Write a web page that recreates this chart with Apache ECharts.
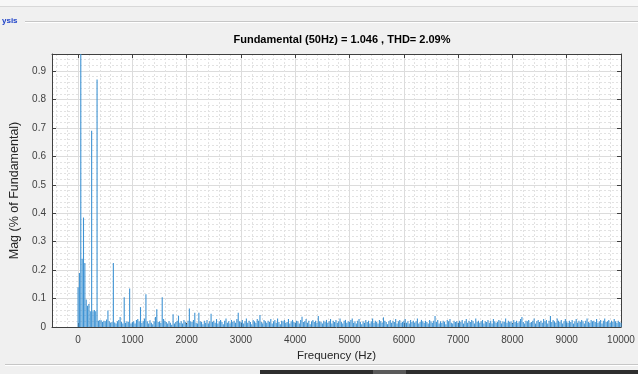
<!DOCTYPE html>
<html>
<head>
<meta charset="utf-8">
<script src="https://cdn.jsdelivr.net/npm/echarts@6/dist/echarts.min.js"></script>
<style>
html,body{margin:0;padding:0;background:#f0f0f0;}
#chart{width:638px;height:374px;}
</style>
</head>
<body>
<div id="chart"></div>
<script>
// ---- data ----
const titleText = "Fundamental (50Hz) = 1.046 , THD= 2.09%";
const xAxisName = "Frequency (Hz)";
const yAxisName = "Mag (% of Fundamental)";
const binWidthHz = 25; // FFT frequency resolution
// magnitude per 25 Hz bin, 0 Hz .. 10000 Hz (20 bins = 500 Hz per row)
const magnitudes = [
  0.14, 0.19, 100, 0.24, 0.385, 0.225, 0.097, 0.075, 0.081, 0.055, 0.69, 0.055, 0.06, 0.055, 0.87, 0.022, 0.025, 0.024, 0.018, 0.022,
  0.02, 0.026, 0.058, 0.02, 0.015, 0.018, 0.225, 0.016, 0.012, 0.02, 0.025, 0.035, 0.018, 0.012, 0.105, 0.015, 0.02, 0.018, 0.135, 0.012,
  0.018, 0.02, 0.012, 0.025, 0.028, 0.02, 0.07, 0.015, 0.022, 0.03, 0.115, 0.02, 0.012, 0.024, 0.015, 0.01, 0.02, 0.035, 0.062, 0.018,
  0.02, 0.015, 0.105, 0.028, 0.022, 0.018, 0.012, 0.02, 0.015, 0.008, 0.045, 0.012, 0.018, 0.022, 0.04, 0.015, 0.02, 0.012, 0.025, 0.018,
  0.01, 0.022, 0.065, 0.02, 0.018, 0.025, 0.05, 0.015, 0.012, 0.05, 0.02, 0.018, 0.01, 0.022, 0.015, 0.025, 0.012, 0.02, 0.047, 0.018,
  0.022, 0.015, 0.028, 0.012, 0.02, 0.025, 0.018, 0.01, 0.022, 0.03, 0.015, 0.02, 0.012, 0.025, 0.018, 0.022, 0.015, 0.028, 0.05, 0.02,
  0.018, 0.025, 0.012, 0.02, 0.03, 0.015, 0.022, 0.018, 0.01, 0.025, 0.02, 0.015, 0.028, 0.022, 0.042, 0.018, 0.012, 0.025, 0.02, 0.015,
  0.022, 0.018, 0.028, 0.012, 0.02, 0.025, 0.015, 0.03, 0.018, 0.01, 0.022, 0.02, 0.025, 0.015, 0.018, 0.028, 0.012, 0.02, 0.025, 0.018,
  0.015, 0.022, 0.02, 0.012, 0.025, 0.036, 0.018, 0.02, 0.028, 0.015, 0.022, 0.01, 0.02, 0.025, 0.018, 0.022, 0.015, 0.039, 0.02, 0.018,
  0.012, 0.022, 0.018, 0.025, 0.015, 0.02, 0.028, 0.012, 0.022, 0.018, 0.025, 0.015, 0.02, 0.03, 0.018, 0.012, 0.022, 0.025, 0.015, 0.02,
  0.018, 0.025, 0.03, 0.015, 0.02, 0.012, 0.022, 0.028, 0.018, 0.01, 0.02, 0.015, 0.025, 0.018, 0.022, 0.012, 0.02, 0.03, 0.015, 0.022,
  0.018, 0.012, 0.025, 0.02, 0.015, 0.034, 0.022, 0.018, 0.01, 0.02, 0.025, 0.015, 0.022, 0.018, 0.028, 0.012, 0.02, 0.025, 0.015, 0.018,
  0.022, 0.028, 0.015, 0.02, 0.012, 0.025, 0.018, 0.022, 0.015, 0.02, 0.03, 0.012, 0.018, 0.025, 0.02, 0.015, 0.022, 0.018, 0.012, 0.025,
  0.02, 0.015, 0.022, 0.039, 0.018, 0.025, 0.012, 0.02, 0.015, 0.022, 0.018, 0.01, 0.025, 0.02, 0.028, 0.015, 0.012, 0.022, 0.018, 0.02,
  0.015, 0.022, 0.018, 0.025, 0.012, 0.02, 0.028, 0.015, 0.022, 0.018, 0.025, 0.02, 0.012, 0.03, 0.018, 0.022, 0.015, 0.02, 0.025, 0.012,
  0.02, 0.018, 0.025, 0.015, 0.022, 0.012, 0.028, 0.02, 0.015, 0.018, 0.025, 0.022, 0.012, 0.02, 0.018, 0.03, 0.015, 0.022, 0.018, 0.02,
  0.012, 0.025, 0.018, 0.022, 0.015, 0.02, 0.028, 0.035, 0.018, 0.012, 0.022, 0.02, 0.025, 0.015, 0.018, 0.022, 0.03, 0.012, 0.02, 0.025,
  0.018, 0.022, 0.015, 0.028, 0.02, 0.025, 0.012, 0.022, 0.039, 0.018, 0.025, 0.02, 0.015, 0.03, 0.022, 0.018, 0.025, 0.012, 0.02, 0.028,
  0.02, 0.015, 0.022, 0.018, 0.025, 0.012, 0.02, 0.028, 0.015, 0.022, 0.018, 0.025, 0.02, 0.012, 0.022, 0.03, 0.018, 0.015, 0.025, 0.02,
  0.022, 0.018, 0.028, 0.015, 0.02, 0.025, 0.012, 0.022, 0.03, 0.018, 0.02, 0.025, 0.015, 0.022, 0.018, 0.028, 0.02, 0.015, 0.022, 0.018,
  0.015
];
const xMin = -480, xMax = 10000;
const yMin = 0, yMax = 0.96;

const barData = magnitudes.map((v, i) => [i * binWidthHz, v]);

const FONT = "'Liberation Sans', Arial, sans-serif";
const axisColor = '#404040';

const chart = echarts.init(document.getElementById('chart'), null, {renderer: 'canvas'});
chart.setOption({
  animation: false,
  backgroundColor: '#f0f0f0',
  textStyle: {fontFamily: FONT},
  title: {
    text: titleText,
    left: 337, top: 29,
    textAlign: 'center',
    textStyle: {fontFamily: FONT, fontSize: 11, fontWeight: 'bold', color: '#000'}
  },
  grid: {left: 52, top: 54, right: 17, bottom: 47, show: true, backgroundColor: '#fff', borderWidth: 0},
  xAxis: [{
    type: 'value', min: xMin, max: xMax, splitNumber: 10,
    name: xAxisName, nameLocation: 'middle', nameGap: 21,
    nameTextStyle: {fontFamily: FONT, fontSize: 11.5, color: '#262626'},
    axisLine: {show: true, onZero: false, lineStyle: {color: axisColor, width: 1}},
    axisTick: {show: true, inside: true, length: 4, lineStyle: {color: axisColor}},
    axisLabel: {fontFamily: FONT, fontSize: 10, color: '#404040', margin: 8, showMinLabel: false,
      formatter: v => String(Math.round(v))},
    splitLine: {show: true, lineStyle: {color: '#dcdcdc', width: 1}},
    minorTick: {show: false, splitNumber: 5},
    minorSplitLine: {show: true, lineStyle: {color: '#e2e2e2', type: [2, 2], width: 1}}
  }, {
    type: 'value', position: 'top', min: xMin, max: xMax, splitNumber: 10,
    axisLine: {show: true, onZero: false, lineStyle: {color: axisColor, width: 1}},
    axisTick: {show: true, inside: true, length: 4, lineStyle: {color: axisColor}},
    axisLabel: {show: false},
    splitLine: {show: false}
  }],
  yAxis: [{
    type: 'value', min: yMin, max: yMax, interval: 0.1,
    name: yAxisName, nameLocation: 'middle', nameGap: 23,
    nameTextStyle: {fontFamily: FONT, fontSize: 12.5, color: '#262626'},
    axisLine: {show: true, onZero: false, lineStyle: {color: axisColor, width: 1}},
    axisTick: {show: true, inside: true, length: 4, lineStyle: {color: axisColor}},
    axisLabel: {fontFamily: FONT, fontSize: 10, color: '#404040', margin: 6, showMaxLabel: false,
      formatter: v => String(Math.round(v * 10) / 10)},
    splitLine: {show: true, lineStyle: {color: '#dcdcdc', width: 1}},
    minorTick: {show: false, splitNumber: 5},
    minorSplitLine: {show: true, lineStyle: {color: '#e2e2e2', type: [2, 2], width: 1}}
  }, {
    type: 'value', position: 'right', min: yMin, max: yMax, interval: 0.1,
    axisLine: {show: true, onZero: false, lineStyle: {color: axisColor, width: 1}},
    axisTick: {show: true, inside: true, length: 4, lineStyle: {color: axisColor}},
    axisLabel: {show: false},
    splitLine: {show: false}
  }],
  series: [{
    type: 'bar',
    xAxisIndex: 0, yAxisIndex: 0,
    data: barData,
    barWidth: 1.1,
    clip: true,
    itemStyle: {color: '#3f93d3'},
    emphasis: {disabled: true}
  }],
  graphic: [
    {type: 'rect', shape: {x: 0, y: 0, width: 638, height: 6}, style: {fill: '#f7f7f7'}, silent: true},
    {type: 'rect', shape: {x: 0, y: 6, width: 638, height: 1}, style: {fill: '#d8d8d8'}, silent: true},
    {type: 'rect', shape: {x: 25, y: 21, width: 613, height: 1}, style: {fill: '#c6c6c6'}, silent: true},
    {type: 'rect', shape: {x: 25, y: 22, width: 613, height: 1}, style: {fill: '#ffffff'}, silent: true},
    {type: 'text', x: 2, y: 17, style: {text: 'ysis', fill: '#1a3fc8', font: 'bold 8px ' + FONT}, silent: true},
    {type: 'rect', shape: {x: 5, y: 364, width: 633, height: 1}, style: {fill: '#c6c6c6'}, silent: true},
    {type: 'rect', shape: {x: 5, y: 365, width: 633, height: 1}, style: {fill: '#ffffff'}, silent: true},
    {type: 'rect', shape: {x: 260, y: 370, width: 378, height: 4}, style: {fill: '#2e2e2e'}, silent: true},
    {type: 'rect', shape: {x: 373, y: 370, width: 33, height: 4}, style: {fill: '#5a5a5a'}, silent: true}
  ]
});
</script>
</body>
</html>
